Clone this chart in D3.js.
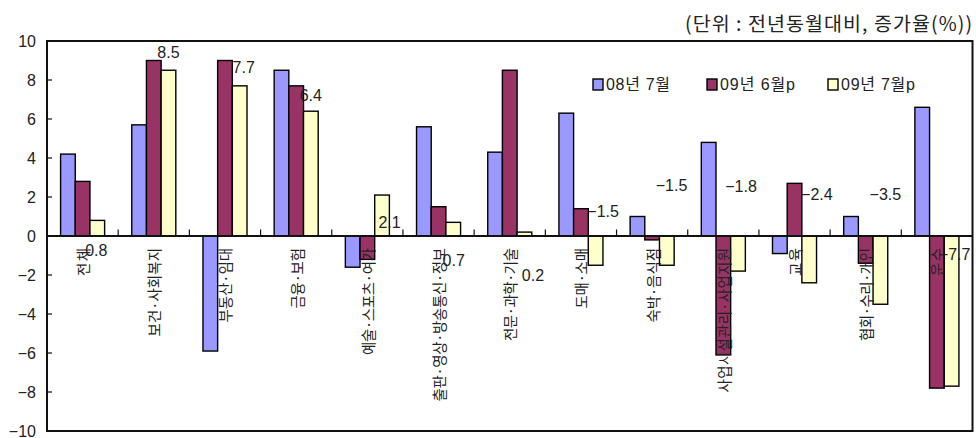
<!DOCTYPE html>
<html>
<head>
<meta charset="utf-8">
<script src="https://cdn.jsdelivr.net/npm/d3@7/dist/d3.min.js"></script>
<style>
  html, body { margin: 0; padding: 0; background: #fff; }
  svg { display: block; font-family: "Liberation Sans", "Noto Sans CJK KR", sans-serif; }
  .kr { font-family: "Noto Sans CJK KR", "Liberation Sans", sans-serif; }
</style>
</head>
<body>
<svg id="chart" width="976" height="438"></svg>
<script>
// Industry categories
const categories = [
  "전체", "보건·사회복지", "부동산·임대", "금융·보험", "예술·스포츠·여가",
  "출판·영상·방송통신·정보", "전문·과학·기술", "도매·소매", "숙박·음식점",
  "사업시설관리·사업지원", "교육", "협회·수리·개인", "운수"
];
// Series names
const seriesNames = ["08년 7월", "09년 6월p", "09년 7월p"];
// Year-on-year growth (%)
const jul08 = [4.2, 5.7, -5.9, 8.5, -1.6, 5.6, 4.3, 6.3, 1.0, 4.8, -0.9, 1.0, 6.6];
const jun09 = [2.8, 9.0, 9.0, 7.7, -1.2, 1.5, 8.5, 1.4, -0.2, -6.1, 2.7, -1.4, -7.8];
const jul09 = [0.8, 8.5, 7.7, 6.4, 2.1, 0.7, 0.2, -1.5, -1.5, -1.8, -2.4, -3.5, -7.7];
// Value axis ticks
const yTicks = [-10, -8, -6, -4, -2, 0, 2, 4, 6, 8, 10];
const titleText = "(단위 : 전년동월대비,  증가율(%))";

// Layout & styles
const colors = ["#9999FF", "#993366", "#FFFFCC"];
const plot = { left: 47, right: 972.5, top: 41, bottom: 431 };
// hand-placed offsets (px) of the 09년 7월p value labels from their bar tips
const labelNudge = [
  [-1, 30], [0, -17.5], [4, -18], [0, -16], [7.5, 27.5], [0.5, 38], [8.5, 43],
  [7.5, -53.5], [4.7, -79.5], [3, -85], [7.7, -88.5], [5, -110], [3, -131.5]
];
const legendX = [593, 707, 828];
const legendTextW = [64, 75, 74];

const series = [jul08, jun09, jul09];
const svg = d3.select("#chart");

const x0 = d3.scaleBand().domain(categories).range([plot.left, plot.right]).paddingInner(0).paddingOuter(0);
const band = x0.bandwidth();
const barW = band / 4.85;
const groupOffset = (band - 3 * barW) / 2;
const x1 = d3.scaleBand().domain(d3.range(3)).range([groupOffset, groupOffset + 3 * barW]).padding(0);

const y = d3.scaleLinear().domain([-10, 10]).range([plot.bottom, plot.top]);
const fmt = d3.format(".1f");

// Bars
const groups = svg.append("g").selectAll("g")
  .data(categories)
  .join("g")
  .attr("transform", d => `translate(${x0(d)},0)`);

groups.selectAll("rect")
  .data((d, i) => series.map((s, k) => ({ k, v: s[i] })))
  .join("rect")
  .attr("x", d => x1(d.k))
  .attr("width", x1.bandwidth())
  .attr("y", d => y(Math.max(0, d.v)))
  .attr("height", d => Math.abs(y(d.v) - y(0)))
  .attr("fill", d => colors[d.k])
  .attr("stroke", "#000")
  .attr("stroke-width", 1.4);

// Plot frame
svg.append("rect")
  .attr("x", plot.left).attr("y", plot.top)
  .attr("width", plot.right - plot.left).attr("height", plot.bottom - plot.top)
  .attr("fill", "none").attr("stroke", "#111").attr("stroke-width", 2);

// Zero line with category separators
svg.append("line")
  .attr("x1", plot.left).attr("x2", plot.right)
  .attr("y1", y(0)).attr("y2", y(0))
  .attr("stroke", "#111").attr("stroke-width", 2);

svg.append("g").selectAll("line")
  .data(categories.slice(1))
  .join("line")
  .attr("x1", d => x0(d)).attr("x2", d => x0(d))
  .attr("y1", y(0)).attr("y2", y(0) - 6.5)
  .attr("stroke", "#111").attr("stroke-width", 1.2);

// Value axis
const yAxis = d3.axisLeft(y).tickValues(yTicks).tickSize(0).tickPadding(11).tickFormat(d3.format("d"));
const ya = svg.append("g").attr("transform", `translate(${plot.left},0)`).call(yAxis);
ya.select(".domain").remove();
ya.selectAll("text")
  .attr("font-family", "Liberation Sans, sans-serif")
  .attr("font-size", 16)
  .attr("fill", "#222");
// inner tick marks
svg.append("g").selectAll("line")
  .data(yTicks.filter(t => t !== 0 && Math.abs(t) !== 10))
  .join("line")
  .attr("x1", plot.left).attr("x2", plot.left + 5)
  .attr("y1", d => y(d)).attr("y2", d => y(d))
  .attr("stroke", "#111").attr("stroke-width", 1.2);

// Category labels, rotated; each syllable takes a 14px pitch, each dot 4.5px
const labelLen = s => {
  const dots = (s.match(/·/g) || []).length;
  return 14 * (s.length - dots) + 4.5 * dots;
};
svg.append("g").selectAll("text")
  .data(categories)
  .join("text")
  .attr("class", "kr")
  .attr("transform", d => `translate(${x0(d) + band / 2},${y(0) + 12}) rotate(-90)`)
  .attr("text-anchor", "end")
  .attr("dominant-baseline", "central")
  .attr("font-size", 14.5)
  .attr("textLength", labelLen)
  .attr("lengthAdjust", "spacing")
  .attr("fill", "#222")
  .text(d => d);

// Value labels for 09년 7월p
svg.append("g").selectAll("text")
  .data(jul09)
  .join("text")
  .attr("x", (v, i) => x0(categories[i]) + x1(2) + x1.bandwidth() / 2 + labelNudge[i][0])
  .attr("y", (v, i) => y(v) + labelNudge[i][1])
  .attr("text-anchor", "middle")
  .attr("dominant-baseline", "central")
  .attr("font-size", 16)
  .attr("fill", "#222")
  .text(v => fmt(v));

// Legend
const lg = svg.append("g").selectAll("g")
  .data(seriesNames)
  .join("g")
  .attr("transform", (d, i) => `translate(${legendX[i]},79)`);
lg.append("rect")
  .attr("width", 10).attr("height", 11)
  .attr("fill", (d, i) => colors[i])
  .attr("stroke", "#000").attr("stroke-width", 1.4);
lg.append("text")
  .attr("x", 13).attr("y", 5.5)
  .attr("dominant-baseline", "central")
  .attr("font-size", 16)
  .attr("textLength", (d, i) => legendTextW[i])
  .attr("lengthAdjust", "spacing")
  .attr("fill", "#222")
  .text(d => d);

// Unit note
svg.append("text")
  .attr("class", "kr")
  .attr("x", 972).attr("y", 22)
  .attr("text-anchor", "end")
  .attr("dominant-baseline", "central")
  .attr("font-size", 19.5)
  .attr("textLength", 287)
  .attr("lengthAdjust", "spacing")
  .attr("fill", "#222")
  .text(titleText);
</script>
</body>
</html>
